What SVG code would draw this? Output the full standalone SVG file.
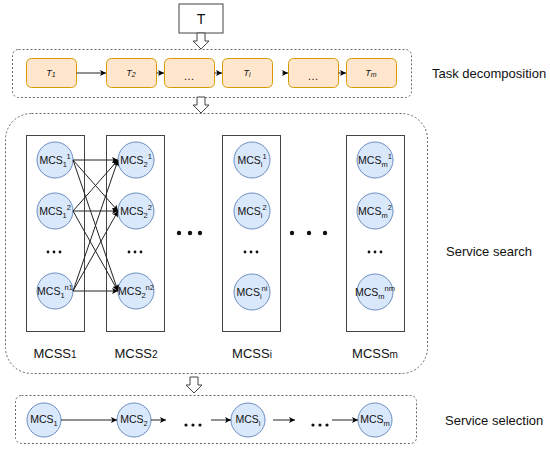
<svg xmlns="http://www.w3.org/2000/svg" width="550" height="450" viewBox="0 0 550 450">
<defs>
<marker id="ah" viewBox="0 0 10 10" refX="10" refY="5" markerWidth="6" markerHeight="6" orient="auto" markerUnits="userSpaceOnUse">
<path d="M0,0 L10,5 L0,10 L2.5,5 Z" fill="#000"/>
</marker>
<style>
text{font-family:"Liberation Sans",Arial,sans-serif;fill:#111;}
.dash{fill:none;stroke:#666;stroke-width:1;stroke-dasharray:2 2;}
.task{fill:#ffe6cc;stroke:#d79b00;stroke-width:1;}
.tt{font-size:9px;font-style:italic;text-anchor:middle;}
.col{fill:#fff;stroke:#444;stroke-width:1;}
.c{fill:#dae8fc;stroke:#6c8ebf;stroke-width:1;}
.ct{font-size:10.5px;text-anchor:middle;}
.s{font-size:7.5px;}
.lab{font-size:13px;}
.ml{font-size:13px;text-anchor:middle;}
.hollow{fill:#fff;stroke:#444;stroke-width:1;}
.con{stroke:#222;stroke-width:1;fill:none;marker-end:url(#ah);}
.dot{fill:#111;}
</style>
</defs>
<rect width="550" height="450" fill="#fff"/>

<g id="T">
<rect x="179" y="4" width="44" height="29" fill="#fff" stroke="#444"/>
<text x="201" y="24" font-size="14" text-anchor="middle">T</text>
</g>

<g id="taskdecomp">
<rect class="dash" x="12.5" y="49.5" width="399" height="48" rx="6"/>
<text class="lab" x="432" y="78">Task decomposition</text>
</g>

<g id="t1"><rect class="task" x="26.5" y="58.5" width="50" height="29" rx="5"/><text class="tt" x="51" y="76">T<tspan font-size="7" dy="1">1</tspan></text></g>
<g id="t2"><rect class="task" x="106.5" y="58.5" width="50" height="29" rx="5"/><text class="tt" x="131" y="76">T<tspan font-size="7" dy="1">2</tspan></text></g>
<g id="te1"><rect class="task" x="164.5" y="58.5" width="50" height="29" rx="5"/><text x="189" y="80" font-size="11" text-anchor="middle">…</text></g>
<g id="ti"><rect class="task" x="222.5" y="58.5" width="50" height="29" rx="5"/><text class="tt" x="247" y="76">T<tspan font-size="7" dy="1">i</tspan></text></g>
<g id="te2"><rect class="task" x="288.5" y="58.5" width="50" height="29" rx="5"/><text x="313" y="80" font-size="11" text-anchor="middle">…</text></g>
<g id="tm"><rect class="task" x="346.5" y="58.5" width="50" height="29" rx="5"/><text class="tt" x="371" y="76">T<tspan font-size="7" dy="1">m</tspan></text></g>

<g id="servicesearch">
<rect class="dash" x="5.5" y="113.5" width="422" height="260" rx="26"/>
<text class="lab" x="446" y="256">Service search</text>
</g>

<g id="mcss1">
<rect class="col" x="26.5" y="135.5" width="58" height="196"/>
<circle class="c" cx="55" cy="160" r="18"/><text class="ct" x="55" y="164">MCS<tspan class="s" dy="3">1</tspan><tspan class="s" dy="-8">1</tspan></text>
<circle class="c" cx="55" cy="211" r="18"/><text class="ct" x="55" y="215">MCS<tspan class="s" dy="3">1</tspan><tspan class="s" dy="-8">2</tspan></text>
<circle class="dot" cx="48" cy="252" r="1.4"/><circle class="dot" cx="54" cy="252" r="1.4"/><circle class="dot" cx="60" cy="252" r="1.4"/>
<circle class="c" cx="55" cy="291" r="18"/><text class="ct" x="55" y="295">MCS<tspan class="s" dy="3">1</tspan><tspan class="s" dy="-8">n1</tspan></text>
<text class="ml" x="55" y="358">MCSS<tspan font-size="10">1</tspan></text>
</g>

<g id="mcss2">
<rect class="col" x="106.5" y="135.5" width="58" height="196"/>
<circle class="c" cx="136" cy="160" r="18"/><text class="ct" x="136" y="164">MCS<tspan class="s" dy="3">2</tspan><tspan class="s" dy="-8">1</tspan></text>
<circle class="c" cx="136" cy="211" r="18"/><text class="ct" x="136" y="215">MCS<tspan class="s" dy="3">2</tspan><tspan class="s" dy="-8">2</tspan></text>
<circle class="dot" cx="129" cy="252" r="1.4"/><circle class="dot" cx="135" cy="252" r="1.4"/><circle class="dot" cx="141" cy="252" r="1.4"/>
<circle class="c" cx="136" cy="291" r="18"/><text class="ct" x="136" y="295">MCS<tspan class="s" dy="3">2</tspan><tspan class="s" dy="-8">n2</tspan></text>
<text class="ml" x="136" y="358">MCSS<tspan font-size="10">2</tspan></text>
</g>

<g id="mcssi">
<rect class="col" x="222.5" y="135.5" width="58" height="196"/>
<circle class="c" cx="252" cy="160" r="18"/><text class="ct" x="252" y="164">MCS<tspan class="s" dy="3">i</tspan><tspan class="s" dy="-8">1</tspan></text>
<circle class="c" cx="252" cy="211" r="18"/><text class="ct" x="252" y="215">MCS<tspan class="s" dy="3">i</tspan><tspan class="s" dy="-8">2</tspan></text>
<circle class="dot" cx="245" cy="252" r="1.4"/><circle class="dot" cx="251" cy="252" r="1.4"/><circle class="dot" cx="257" cy="252" r="1.4"/>
<circle class="c" cx="252" cy="292" r="18"/><text class="ct" x="252" y="296">MCS<tspan class="s" dy="3">i</tspan><tspan class="s" dy="-8">ni</tspan></text>
<text class="ml" x="252" y="358">MCSS<tspan font-size="10">i</tspan></text>
</g>

<g id="mcssm">
<rect class="col" x="346.5" y="135.5" width="58" height="196"/>
<circle class="c" cx="375" cy="160" r="18"/><text class="ct" x="375" y="164">MCS<tspan class="s" dy="3">m</tspan><tspan class="s" dy="-8">1</tspan></text>
<circle class="c" cx="375" cy="211" r="18"/><text class="ct" x="375" y="215">MCS<tspan class="s" dy="3">m</tspan><tspan class="s" dy="-8">2</tspan></text>
<circle class="dot" cx="369" cy="252" r="1.4"/><circle class="dot" cx="375" cy="252" r="1.4"/><circle class="dot" cx="381" cy="252" r="1.4"/>
<circle class="c" cx="375" cy="292" r="18"/><text class="ct" x="375" y="296">MCS<tspan class="s" dy="3">m</tspan><tspan class="s" dy="-8">nm</tspan></text>
<text class="ml" x="375" y="358">MCSS<tspan font-size="10">m</tspan></text>
</g>

<g id="bigdots">
<circle class="dot" cx="179" cy="233" r="2.2"/><circle class="dot" cx="190" cy="233" r="2.2"/><circle class="dot" cx="200" cy="233" r="2.2"/>
<circle class="dot" cx="292" cy="233" r="2.2"/><circle class="dot" cx="309" cy="233" r="2.2"/><circle class="dot" cx="325" cy="233" r="2.2"/>
</g>

<g id="serviceselection">
<rect class="dash" x="15.5" y="395.5" width="401" height="48" rx="6"/>
<text class="lab" x="445" y="425">Service selection</text>
</g>
<g id="s1"><circle class="c" cx="44" cy="420" r="17"/><text class="ct" x="44" y="423">MCS<tspan class="s" dy="3">1</tspan></text></g>
<g id="s2"><circle class="c" cx="134" cy="420" r="17"/><text class="ct" x="134" y="423">MCS<tspan class="s" dy="3">2</tspan></text></g>
<g id="se1"><circle class="dot" cx="186" cy="425" r="1.6"/><circle class="dot" cx="193" cy="425" r="1.6"/><circle class="dot" cx="200" cy="425" r="1.6"/></g>
<g id="si"><circle class="c" cx="248" cy="420" r="17"/><text class="ct" x="248" y="423">MCS<tspan class="s" dy="3">i</tspan></text></g>
<g id="se2"><circle class="dot" cx="313" cy="425" r="1.6"/><circle class="dot" cx="320" cy="425" r="1.6"/><circle class="dot" cx="327" cy="425" r="1.6"/></g>
<g id="sm"><circle class="c" cx="375" cy="420" r="17"/><text class="ct" x="375" y="423">MCS<tspan class="s" dy="3">m</tspan></text></g>

<g id="connectors">
<polygon class="hollow" points="197,33 205,33 205,41 209,41 201,49 193,41 197,41"/>
<polygon class="hollow" points="197,97 205,97 205,105 209,105 201,113 193,105 197,105"/>
<polygon class="hollow" points="190,377 198,377 198,385 202,385 194,393 186,385 190,385"/>

<line class="con" x1="76.5" y1="73" x2="106" y2="73"/>
<line class="con" x1="156.5" y1="73" x2="164" y2="73"/>
<line class="con" x1="214.5" y1="73" x2="222" y2="73"/>
<line class="con" x1="282" y1="73" x2="288" y2="73"/>
<line class="con" x1="338.5" y1="73" x2="346" y2="73"/>

<line class="con" x1="73" y1="160" x2="118" y2="160"/>
<line class="con" x1="73" y1="160" x2="118" y2="211"/>
<line class="con" x1="73" y1="160" x2="118" y2="291"/>
<line class="con" x1="73" y1="211" x2="118" y2="160"/>
<line class="con" x1="73" y1="211" x2="118" y2="211"/>
<line class="con" x1="73" y1="211" x2="118" y2="291"/>
<line class="con" x1="73" y1="291" x2="118" y2="160"/>
<line class="con" x1="73" y1="291" x2="118" y2="211"/>
<line class="con" x1="73" y1="291" x2="118" y2="291"/>

<line class="con" x1="61" y1="420" x2="117" y2="420"/>
<line class="con" x1="151" y1="420" x2="166" y2="420"/>
<line class="con" x1="211" y1="420" x2="231" y2="420"/>
<line class="con" x1="273" y1="420" x2="295" y2="420"/>
<line class="con" x1="332" y1="420" x2="358" y2="420"/>
</g>
</svg>
